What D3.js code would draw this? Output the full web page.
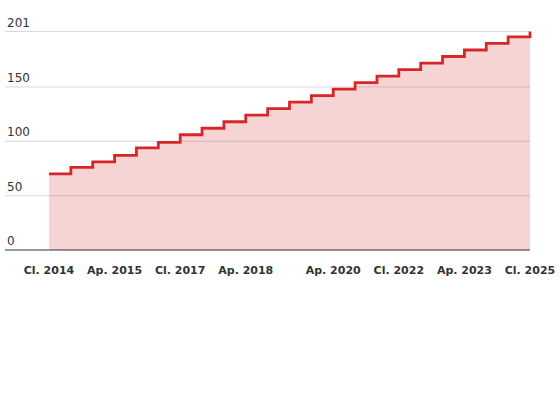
<!DOCTYPE html>
<html>
<head>
<meta charset="utf-8">
<script src="https://cdn.jsdelivr.net/npm/d3@7"></script>
<style>
  body { margin: 0; background: #fff; }
  .ylab { font-family: "DejaVu Sans", sans-serif; font-size: 12px; fill: #333; }
  .xlab { font-family: "DejaVu Sans", sans-serif; font-size: 11px; font-weight: bold; fill: #333; }
</style>
</head>
<body>
<div id="chart"></div>
<script>
// tournaments, one step each
var tournaments = ["Cl. 2014", "Ap. 2014", "Cl. 2015", "Ap. 2015", "Cl. 2016", "Ap. 2016",
  "Cl. 2017", "Ap. 2017", "Cl. 2018", "Ap. 2018", "Cl. 2019", "Ap. 2019", "Cl. 2020",
  "Ap. 2020", "Cl. 2021", "Ap. 2021", "Cl. 2022", "Ap. 2022", "Cl. 2023", "Ap. 2023",
  "Cl. 2024", "Ap. 2024", "Cl. 2025"];
var totals = [70, 76, 81, 87, 94, 99, 106, 112, 118, 124, 130, 136, 142, 148, 154, 160,
  166, 172, 178, 184, 190, 196, 201];
var xTickLabels = ["Cl. 2014", "Ap. 2015", "Cl. 2017", "Ap. 2018", "Ap. 2020", "Cl. 2022", "Ap. 2023", "Cl. 2025"];
var yTicks = [0, 50, 100, 150, 201];

var svgWidth = 560;
var svgHeight = 400;

var svg = d3.select("#chart")
  .append("svg")
  .attr("width", svgWidth)
  .attr("height", svgHeight);

var x = d3.scaleLinear()
  .domain([0, tournaments.length - 1])
  .range([49, 530]);

var y = d3.scaleLinear()
  .domain([0, 201])
  .range([250, 31.5]);

// gridlines + labels
svg.selectAll(".grid")
  .data(yTicks.filter(d => d > 0))
  .enter()
  .append("line")
  .attr("x1", 5)
  .attr("x2", 530)
  .attr("y1", d => y(d))
  .attr("y2", d => y(d))
  .attr("stroke", "#d9d9d9")
  .attr("stroke-width", 1);

svg.selectAll(".ylab")
  .data(yTicks)
  .enter()
  .append("text")
  .attr("class", "ylab")
  .attr("x", 7)
  .attr("y", d => y(d) - 5)
  .text(d => d);

var data = tournaments.map((t, i) => ({ i: i, v: totals[i] }));

// area
var area = d3.area()
  .curve(d3.curveStepAfter)
  .x(d => x(d.i))
  .y0(y(0))
  .y1(d => y(d.v));

svg.append("path")
  .datum(data)
  .attr("d", area)
  .attr("fill", "#d62728")
  .attr("fill-opacity", 0.2);

// line
var line = d3.line()
  .curve(d3.curveStepAfter)
  .x(d => x(d.i))
  .y(d => y(d.v));

svg.append("path")
  .datum(data)
  .attr("d", line)
  .attr("fill", "none")
  .attr("stroke", "#d62728")
  .attr("stroke-width", 2.8);

// baseline
svg.append("line")
  .attr("x1", 5)
  .attr("x2", 530)
  .attr("y1", y(0))
  .attr("y2", y(0))
  .attr("stroke", "#333")
  .attr("stroke-width", 1.2);

// x labels
svg.selectAll(".xlab")
  .data(xTickLabels)
  .enter()
  .append("text")
  .attr("class", "xlab")
  .attr("x", d => x(tournaments.indexOf(d)))
  .attr("y", 274)
  .attr("text-anchor", "middle")
  .text(d => d);
</script>
</body>
</html>
